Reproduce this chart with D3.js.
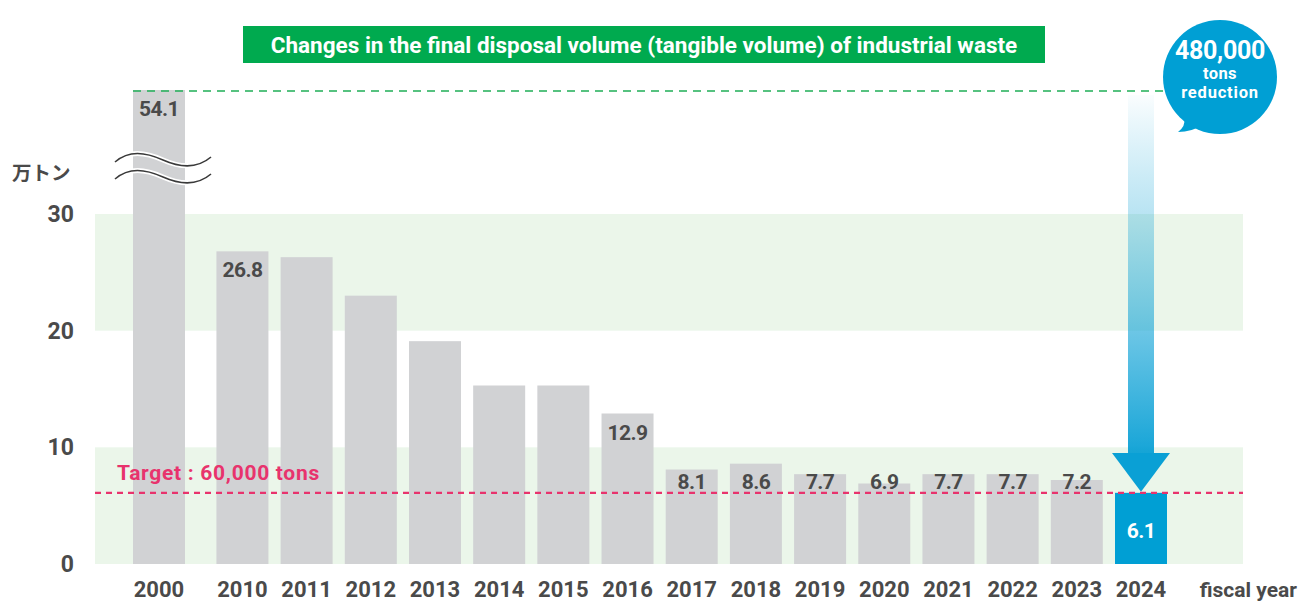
<!DOCTYPE html>
<html>
<head>
<meta charset="utf-8">
<script src="https://cdn.jsdelivr.net/npm/d3@7"></script>
<style>
  body { margin: 0; background: #fff; }
  svg { display: block; font-family: Roboto, "Noto Sans", sans-serif; }
</style>
</head>
<body>
<div id="chart"></div>
<script>
// data
const years = ["2000", "2010", "2011", "2012", "2013", "2014", "2015", "2016",
               "2017", "2018", "2019", "2020", "2021", "2022", "2023", "2024"];
const values = [54.1, 26.8, 26.3, 23.0, 19.1, 15.3, 15.3, 12.9,
                8.1, 8.6, 7.7, 6.9, 7.7, 7.7, 7.2, 6.1];
const showLabel = [true, true, false, false, false, false, false, true,
                   true, true, true, true, true, true, true, true];
const yTicks = [0, 10, 20, 30];
const bands = [[0, 10], [20, 30]];
const target = 6.1;
const titleText = "Changes in the final disposal volume (tangible volume) of industrial waste";
const targetText = "Target : 60,000 tons";
const unitText = "万トン";
const xAxisText = "fiscal year";
const bubbleLines = ["480,000", "tons", "reduction"];

const W = 1300, H = 603;
const gray = "#d1d2d4", blue = "#009fd4", textCol = "#4a4a4a";

const svg = d3.select("#chart").append("svg")
    .attr("width", W).attr("height", H);

// scales (2000 sits a little apart from the rest)
const gap = 0.3;
const slot = i => i + (i > 0 ? gap : 0);
const x = d3.scaleLinear().domain([0, slot(years.length - 1)]).range([133, 1115]);
const barW = 52;
const y = d3.scaleLinear().domain([0, 30, 54.1]).range([564, 214, 90]);

const plotL = 95, plotR = 1243;

// green background bands
svg.selectAll(".band").data(bands).enter().append("rect")
    .attr("x", plotL).attr("width", plotR - plotL)
    .attr("y", d => y(d[1])).attr("height", d => y(d[0]) - y(d[1]))
    .attr("fill", "#ebf6ea");

// y axis
const yAxis = svg.append("g")
    .attr("transform", "translate(" + plotL + ",0)")
    .call(d3.axisLeft(y).tickValues(yTicks).tickSize(0).tickPadding(21));
yAxis.select(".domain").remove();
yAxis.selectAll("text")
    .attr("fill", textCol).attr("font-size", 23).attr("font-weight", 700)
    .attr("font-family", "Roboto");

// bars
const data = years.map((yr, i) => ({year: yr, value: values[i], i: i, label: showLabel[i]}));
svg.selectAll(".bar").data(data).enter().append("rect")
    .attr("x", d => x(slot(d.i)))
    .attr("y", d => y(d.value))
    .attr("width", barW)
    .attr("height", d => y(0) - y(d.value))
    .attr("fill", d => d.year === "2024" ? blue : gray);

// break marks on the 2000 bar
const waveX = x(0) - 18;
const wave = dy => "M" + waveX + "," + (162 + dy) +
    " C" + (waveX + 14) + "," + (150 + dy) + " " + (waveX + 30) + "," + (152 + dy) + " " + (waveX + 48) + "," + (160 + dy) +
    " C" + (waveX + 66) + "," + (168 + dy) + " " + (waveX + 82) + "," + (169 + dy) + " " + (waveX + 96) + "," + (157 + dy);
[0, 17].forEach(dy => {
    svg.append("path").attr("d", wave(dy))
        .attr("fill", "none").attr("stroke", "#fff").attr("stroke-width", 5);
    svg.append("path").attr("d", wave(dy))
        .attr("fill", "none").attr("stroke", "#3a3a3a").attr("stroke-width", 1.6);
});

// target line
svg.append("line")
    .attr("x1", plotL).attr("x2", plotR)
    .attr("y1", y(target)).attr("y2", y(target))
    .attr("stroke", "#e8336d").attr("stroke-width", 2.2)
    .attr("stroke-dasharray", "6,5");
svg.append("text")
    .attr("x", 117).attr("y", 480)
    .attr("fill", "#e8336d").attr("font-size", 21).attr("font-weight", 700)
    .attr("letter-spacing", 0.7)
    .text(targetText);

// value labels
svg.selectAll(".val").data(data.filter(d => d.label)).enter().append("text")
    .attr("x", d => x(slot(d.i)) + barW / 2)
    .attr("y", d => d.year === "2024" ? y(d.value) + 45 : Math.min(y(d.value) + 26, 489))
    .attr("text-anchor", "middle")
    .attr("fill", d => d.year === "2024" ? "#fff" : textCol)
    .attr("font-size", 21).attr("font-weight", 700)
    .attr("letter-spacing", -0.6)
    .text(d => d.value.toFixed(1));

// year labels
svg.selectAll(".yr").data(data).enter().append("text")
    .attr("x", d => x(slot(d.i)) + barW / 2)
    .attr("y", 597)
    .attr("text-anchor", "middle")
    .attr("fill", textCol).attr("font-size", 22).attr("font-weight", 700)
    .text(d => d.year);

svg.append("text")
    .attr("x", 1297).attr("y", 597).attr("text-anchor", "end")
    .attr("fill", textCol).attr("font-size", 21).attr("font-weight", 700)
    .text(xAxisText);

svg.append("text")
    .attr("x", 12).attr("y", 180)
    .attr("fill", textCol).attr("font-size", 19.5).attr("font-weight", 700)
    .attr("font-family", "Noto Sans CJK JP")
    .text(unitText);

// green dashed line at 2000 level
svg.append("line")
    .attr("x1", x(0)).attr("x2", 1170)
    .attr("y1", y(values[0]) + 1).attr("y2", y(values[0]) + 1)
    .attr("stroke", "#1fae57").attr("stroke-width", 1.6)
    .attr("stroke-dasharray", "8,6");

// reduction arrow
const defs = svg.append("defs");
const grad = defs.append("linearGradient").attr("id", "shaft")
    .attr("x1", 0).attr("y1", 0).attr("x2", 0).attr("y2", 1);
grad.append("stop").attr("offset", "0%").attr("stop-color", "#009fd4").attr("stop-opacity", 0.02);
grad.append("stop").attr("offset", "35%").attr("stop-color", "#1aa6d8").attr("stop-opacity", 0.32);
grad.append("stop").attr("offset", "100%").attr("stop-color", "#0aa0d5").attr("stop-opacity", 0.95);

const ax = x(slot(years.length - 1)) + barW / 2;
const shaftTop = 95, headTop = 453, tip = y(values[values.length - 1]) - 1;
svg.append("rect")
    .attr("x", ax - 13).attr("y", shaftTop)
    .attr("width", 26).attr("height", headTop - shaftTop)
    .attr("fill", "url(#shaft)");
svg.append("path")
    .attr("d", "M" + (ax - 29) + "," + headTop + " L" + (ax + 29) + "," + headTop + " L" + ax + "," + tip + " Z")
    .attr("fill", "#0aa0d5");

// title box
svg.append("rect")
    .attr("x", 243).attr("y", 26).attr("width", 802).attr("height", 37)
    .attr("fill", "#00aa4f");
svg.append("text")
    .attr("x", 644).attr("y", 52.5).attr("text-anchor", "middle")
    .attr("fill", "#fff").attr("font-size", 22.5).attr("font-weight", 700)
    .text(titleText);

// bubble
const bx = 1220, by = 77, br = 57;
svg.append("path")
    .attr("d", "M1184,118 Q1186,126 1178,132 Q1192,132 1202,125 Z")
    .attr("fill", blue);
svg.append("circle").attr("cx", bx).attr("cy", by).attr("r", br).attr("fill", blue);
svg.append("text").attr("x", bx).attr("y", 59).attr("text-anchor", "middle")
    .attr("fill", "#fff").attr("font-size", 25).attr("font-weight", 700)
    .attr("letter-spacing", -0.3)
    .text(bubbleLines[0]);
svg.append("text").attr("x", bx).attr("y", 79).attr("text-anchor", "middle")
    .attr("fill", "#fff").attr("font-size", 16.5).attr("font-weight", 700)
    .attr("letter-spacing", 0.4)
    .text(bubbleLines[1]);
svg.append("text").attr("x", bx).attr("y", 98).attr("text-anchor", "middle")
    .attr("fill", "#fff").attr("font-size", 16.5).attr("font-weight", 700)
    .attr("letter-spacing", 0.8)
    .text(bubbleLines[2]);
</script>
</body>
</html>
